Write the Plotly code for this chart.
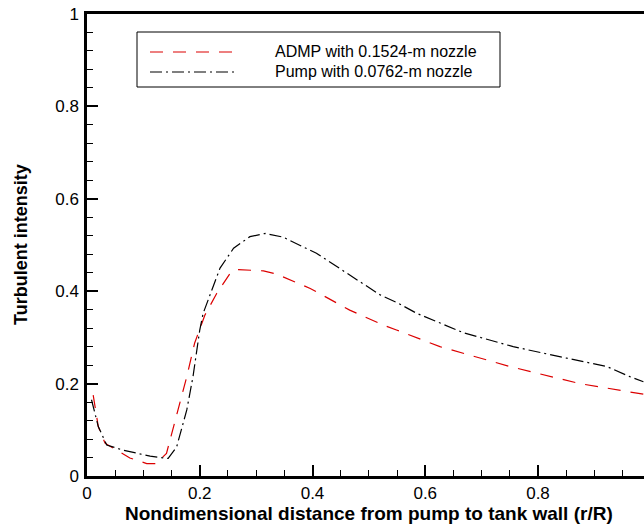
import plotly.graph_objects as go

# ADMP with 0.1524-m nozzle (red dashed)
admp_x = [0.011, 0.02, 0.032, 0.047, 0.076, 0.106, 0.123, 0.141, 0.165, 0.177, 0.191, 0.209,
          0.23, 0.254, 0.264, 0.313, 0.336, 0.396, 0.466, 0.529, 0.549, 0.626, 0.75, 0.874, 0.987]
admp_y = [0.175, 0.107, 0.071, 0.06, 0.039, 0.027, 0.027, 0.049, 0.158, 0.215, 0.288, 0.348,
          0.395, 0.439, 0.447, 0.444, 0.437, 0.406, 0.359, 0.325, 0.316, 0.28, 0.237, 0.2, 0.177]

# Pump with 0.0762-m nozzle (black dash-dot)
pump_x = [0.008, 0.02, 0.035, 0.064, 0.112, 0.144, 0.159, 0.177, 0.188, 0.2, 0.206, 0.236, 0.26,
          0.289, 0.316, 0.348, 0.407, 0.467, 0.52, 0.552, 0.585, 0.668, 0.756, 0.851, 0.922, 0.963, 0.987]
pump_y = [0.165, 0.107, 0.067, 0.056, 0.043, 0.038, 0.063, 0.143, 0.215, 0.316, 0.352, 0.45, 0.493,
          0.518, 0.525, 0.517, 0.482, 0.435, 0.392, 0.374, 0.352, 0.31, 0.28, 0.255, 0.237, 0.215, 0.204]

series_names = ["ADMP with 0.1524-m nozzle", "Pump with 0.0762-m nozzle"]
x_ticks = [0, 0.2, 0.4, 0.6, 0.8, 1]
y_ticks = [0, 0.2, 0.4, 0.6, 0.8, 1]

FONT = "Liberation Sans, Arial, sans-serif"
RED = "rgb(220,0,0)"

fig = go.Figure()
fig.add_trace(go.Scatter(x=admp_x, y=admp_y, mode="lines", name=series_names[0],
                         line=dict(color=RED, width=1.2, dash="13px,10px"), showlegend=False))
fig.add_trace(go.Scatter(x=pump_x, y=pump_y, mode="lines", name=series_names[1],
                         line=dict(color="black", width=1.2, dash="12px,4px,2px,4px"), showlegend=False))

W, H = 644, 527
L, T, B, R = 87, 14, 51, 0
pw, ph = W - L - R, H - T - B

def px(xp):
    return (xp - L) / pw

def py(yp):
    return (H - B - yp) / ph

shapes = [
    dict(type="rect", xref="paper", yref="paper", x0=px(137), x1=px(500), y0=py(87), y1=py(32),
         line=dict(color="black", width=1), fillcolor="white"),
    dict(type="line", xref="paper", yref="paper", x0=px(150), x1=px(234), y0=py(52), y1=py(52),
         line=dict(color=RED, width=1.2, dash="13px,10px")),
    dict(type="line", xref="paper", yref="paper", x0=px(150), x1=px(234), y0=py(72), y1=py(72),
         line=dict(color="black", width=1.2, dash="12px,4px,2px,4px")),
]
annotations = [
    dict(xref="paper", yref="paper", x=px(273), y=py(52), text=series_names[0], showarrow=False,
         xanchor="left", yanchor="middle", font=dict(family=FONT, size=16, color="black")),
    dict(xref="paper", yref="paper", x=px(273), y=py(72), text=series_names[1], showarrow=False,
         xanchor="left", yanchor="middle", font=dict(family=FONT, size=16, color="black")),
    dict(xref="paper", yref="paper", x=px(369), y=py(513),
         text="<b>Nondimensional distance from pump to tank wall (r/R)</b>", showarrow=False,
         xanchor="center", yanchor="middle", font=dict(family=FONT, size=19, color="black")),
    dict(xref="paper", yref="paper", x=px(21), y=py(245), textangle=-90,
         text="<b>Turbulent intensity</b>", showarrow=False,
         xanchor="center", yanchor="middle", font=dict(family=FONT, size=18, color="black")),
]

fig.update_layout(
    width=W, height=H,
    margin=dict(l=L, r=R, t=T, b=B, pad=0),
    paper_bgcolor="white", plot_bgcolor="white",
    font=dict(family=FONT, size=17, color="black"),
    shapes=shapes, annotations=annotations,
    xaxis=dict(range=[0, pw / 563.75], tickvals=x_ticks, ticktext=[str(v) for v in x_ticks],
               ticks="inside", ticklen=11, tickwidth=2, tickcolor="black",
               showline=True, linewidth=2.5, linecolor="black", mirror=True,
               showgrid=False, zeroline=False,
               minor=dict(dtick=0.05, ticks="inside", ticklen=6, tickwidth=1, tickcolor="black", showgrid=False),
               tickfont=dict(family=FONT, size=17)),
    yaxis=dict(range=[0, 1], tickvals=y_ticks, ticktext=[str(v) for v in y_ticks],
               ticks="inside", ticklen=11, tickwidth=2, tickcolor="black",
               showline=True, linewidth=2.5, linecolor="black",
               showgrid=False, zeroline=False, ticklabelstandoff=2,
               minor=dict(dtick=0.04, ticks="inside", ticklen=6, tickwidth=1, tickcolor="black", showgrid=False),
               tickfont=dict(family=FONT, size=17)),
)

fig.write_html("out.html")
